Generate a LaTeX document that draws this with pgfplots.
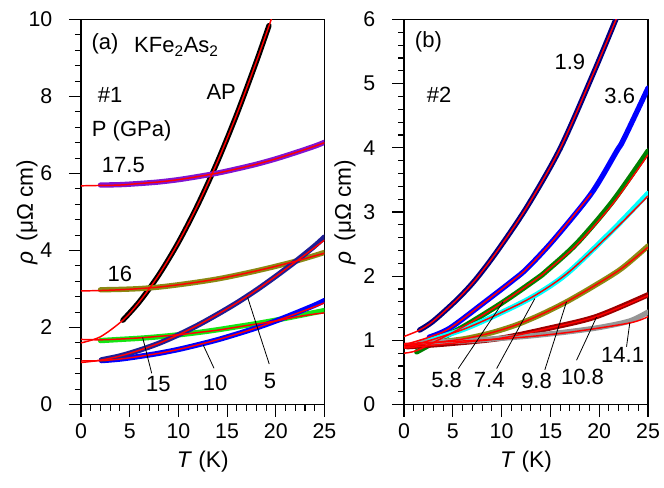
\documentclass[border=0pt]{standalone}
\usepackage{fontspec}
\setmainfont{Liberation Sans}
\usepackage{pgfplots}
\pgfplotsset{compat=1.18}
\definecolor{cviolet}{RGB}{128,20,210}
\definecolor{colive}{RGB}{138,138,20}
\definecolor{cgreen}{RGB}{20,230,20}
\definecolor{cblue}{RGB}{0,0,255}
\definecolor{cdblue}{RGB}{30,30,150}
\definecolor{cnavy}{RGB}{0,0,128}
\definecolor{cdgreen}{RGB}{0,128,0}
\definecolor{ccyan}{RGB}{0,255,255}
\definecolor{cdred}{RGB}{155,0,0}
\definecolor{cgrey}{RGB}{150,150,150}
\tikzset{lab/.style={font=\fontsize{16.5}{19}\selectfont, inner sep=0pt}}
\pgfplotsset{
  myaxis/.style={
    scale only axis,
    clip mode=individual,
    height=288.75pt,
    xmin=0,xmax=25,
    xtick={0,5,...,25},
    minor x tick num=4,
    tick pos=left,
    tick align=outside,
    major tick length=9pt,
    minor tick length=4.5pt,
    every tick/.style={black, line width=0.8pt},
    axis line style={line width=0.9pt},
    tick label style={font=\fontsize{16}{19}\selectfont},
    xticklabel style={yshift=-2pt},
    yticklabel style={xshift=-9pt},
    /pgf/number format/assume math mode=true,
    xlabel={\textit{T} (K)},
    xlabel style={font=\fontsize{17}{20}\selectfont, at={(axis description cs:0.5,-0.149)},anchor=center},
  },
  dat/.style={line width=4pt, smooth, no markers, line cap=round},
  fit/.style={red, line width=1.1pt, smooth, no markers},
  lead/.style={black, line width=0.6pt, no markers},
}
\newcommand{\rholabel}{\textit{ρ}\, (μΩ cm)}
\begin{document}
\begin{tikzpicture}
\path[use as bounding box] (0pt,0pt) rectangle (498pt,-366pt);
% ---------------- panel (a)
\begin{axis}[myaxis,
  at={(60.75pt,-14.625pt)}, anchor=north west,
  width=182.6pt,
  ymin=0,ymax=10, ytick={0,2,...,10}, minor y tick num=4,
]
% data
\addplot[dat, black] coordinates {(4.3,2.19)(6,2.67)(8,3.37)(10,4.21)(12,5.19)(14,6.30)(16,7.54)(18,8.90)(19.3,9.84)};
\addplot[dat, cviolet] coordinates {(2,5.70)(4,5.71)(6,5.74)(8,5.78)(10,5.84)(12,5.92)(14,6.01)(16,6.12)(18,6.24)(20,6.38)(22,6.54)(24,6.71)(25,6.81)};
\addplot[dat, colive] coordinates {(2,2.98)(4,2.99)(6,3.01)(8,3.05)(10,3.11)(12,3.18)(14,3.26)(16,3.36)(18,3.47)(20,3.59)(22,3.72)(24,3.87)(25,3.95)};
\addplot[dat, cgreen] coordinates {(2,1.66)(4,1.69)(6,1.72)(8,1.76)(10,1.81)(12,1.87)(14,1.94)(16,2.02)(18,2.10)(20,2.19)(22,2.29)(24,2.39)(25,2.44)};
\addplot[dat, cblue] coordinates {(2.1,1.14)(4,1.18)(6,1.25)(8,1.33)(10,1.43)(12,1.55)(14,1.68)(16,1.83)(18,1.99)(20,2.17)(22,2.37)(24,2.58)(25,2.70)};
\addplot[dat, cdblue] coordinates {(2.1,1.16)(4,1.26)(6,1.41)(8,1.59)(10,1.81)(12,2.06)(14,2.34)(16,2.64)(18,2.97)(20,3.33)(22,3.71)(24,4.12)(25,4.35)};
% fits
\addplot[fit] coordinates {(0,1.60)(2,1.76)(4.3,2.19)(6,2.67)(8,3.37)(10,4.21)(12,5.19)(14,6.30)(16,7.54)(18,8.90)(19.6,10.05)};
\addplot[fit] coordinates {(0,5.68)(2,5.69)(4,5.70)(6,5.74)(8,5.78)(10,5.84)(12,5.92)(14,6.01)(16,6.12)(18,6.24)(20,6.38)(22,6.54)(24,6.71)(25,6.80)};
\addplot[fit] coordinates {(0,2.95)(2,2.96)(4,2.98)(6,3.01)(8,3.05)(10,3.11)(12,3.18)(14,3.26)(16,3.36)(18,3.47)(20,3.59)(22,3.72)(24,3.86)(25,3.93)};
\addplot[fit] coordinates {(0,1.69)(2,1.68)(4,1.70)(6,1.73)(8,1.77)(10,1.81)(12,1.87)(14,1.93)(16,2.01)(18,2.09)(20,2.17)(22,2.27)(24,2.35)(25,2.38)};
\addplot[fit] coordinates {(0,1.13)(2,1.14)(4,1.18)(6,1.25)(8,1.33)(10,1.43)(12,1.55)(14,1.68)(16,1.83)(18,1.99)(20,2.17)(22,2.35)(24,2.54)(25,2.64)};
\addplot[fit] coordinates {(0,1.09)(2,1.15)(4,1.26)(6,1.41)(8,1.59)(10,1.81)(12,2.06)(14,2.34)(16,2.64)(18,2.97)(20,3.33)(22,3.70)(24,4.08)(25,4.27)};
% leader lines
\addplot[lead] coordinates {(6.33,1.74)(7.26,0.81)};
\addplot[lead] coordinates {(12.56,1.54)(13.66,0.94)};
\addplot[lead] coordinates {(17.11,2.78)(19.33,1.05)};
% labels
\node[lab] at (axis cs:2.46,9.38) {(a)};
\node[lab] at (axis cs:9.8,9.29) {KFe\textsubscript{2}As\textsubscript{2}};
\node[lab] at (axis cs:2.98,8.05) {\#1};
\node[lab] at (axis cs:14.4,8.12) {AP};
\node[lab] at (axis cs:5.2,7.1) {P (GPa)};
\node[lab] at (axis cs:4.35,6.22) {17.5};
\node[lab] at (axis cs:4.0,3.38) {16};
\node[lab] at (axis cs:7.94,0.53) {15};
\node[lab] at (axis cs:13.76,0.55) {10};
\node[lab] at (axis cs:19.4,0.62) {5};
\node[lab, font=\fontsize{17}{20}\selectfont, rotate=90] at (axis description cs:-0.222,0.5) {\rholabel};
\end{axis}
% ---------------- panel (b)
\begin{axis}[myaxis,
  at={(303pt,-14.625pt)}, anchor=north west,
  width=183pt,
  ymin=0,ymax=6, ytick={0,1,...,6}, minor y tick num=4,
]
% data
\addplot[dat, cnavy] coordinates {(1.6,1.16)(3,1.30)(5.4,1.63)(7.3,1.94)(9.5,2.38)(12.6,3.08)(16,3.99)(19.4,5.16)(21.7,6.0)};
\addplot[dat, cblue] coordinates {(2.6,1.05)(4.7,1.19)(8.3,1.60)(11.2,1.94)(12.6,2.12)(15.3,2.56)(19.2,3.29)(21.8,3.95)(22.5,4.13)(25,4.93)};
\addplot[dat, cdgreen] coordinates {(1.3,0.82)(3.7,1.02)(6.4,1.24)(10.2,1.60)(13.6,1.96)(14.6,2.08)(17.7,2.51)(21.4,3.17)(25,3.95)};
\addplot[dat, ccyan] coordinates {(1.5,0.95)(3.3,1.03)(6.4,1.19)(9.8,1.42)(13.2,1.68)(16.7,2.04)(21.4,2.72)(25,3.29)};
\addplot[dat, colive] coordinates {(1.6,0.93)(4,0.98)(6.4,1.03)(9,1.12)(11.5,1.24)(14,1.40)(16.65,1.60)(19.5,1.85)(22.3,2.12)(25,2.47)};
\addplot[dat, cdred] coordinates {(0.3,0.90)(4.7,0.95)(9.8,1.03)(14.9,1.19)(19.7,1.37)(25,1.71)};
\addplot[dat, cgrey] coordinates {(1.6,0.97)(6,0.99)(9.8,1.03)(13,1.07)(16.65,1.13)(20,1.20)(23.1,1.30)(25,1.44)};
% fits
\addplot[fit] coordinates {(0,1.06)(1.6,1.16)(3,1.30)(5.4,1.63)(7.3,1.94)(9.5,2.38)(12.6,3.08)(16,3.99)(19.4,5.16)(22,6.1)};
\addplot[fit] coordinates {(0,0.93)(2.6,1.05)(4.7,1.19)(8.3,1.60)(11.2,1.94)(12.6,2.12)(15.3,2.56)(19.2,3.29)};
\addplot[fit] coordinates {(0,0.80)(1.3,0.84)(3.7,1.02)(6.4,1.24)(10.2,1.60)(13.6,1.96)(14.6,2.08)(17.7,2.49)(21.4,3.13)(25,3.89)};
\addplot[fit] coordinates {(0,0.93)(1.5,0.95)(3.3,1.03)(6.4,1.19)(9.8,1.42)(13.2,1.68)(16.7,2.04)(21.4,2.70)(25,3.25)};
\addplot[fit] coordinates {(0,0.90)(1.6,0.93)(4,0.98)(6.4,1.03)(9,1.12)(11.5,1.24)(14,1.40)(16.65,1.60)(19.5,1.85)(22.3,2.12)(25,2.45)};
\addplot[fit] coordinates {(0,0.88)(4.7,0.95)(9.8,1.03)(14.9,1.19)(19.7,1.37)(25,1.70)};
\addplot[fit] coordinates {(0,0.95)(9.8,1.02)(16.65,1.12)(23.1,1.27)(25,1.37)};
% leader lines
\addplot[lead] coordinates {(10.16,1.60)(5.56,0.56)};
\addplot[lead] coordinates {(13.4,1.65)(9.49,0.56)};
\addplot[lead] coordinates {(16.65,1.60)(14.43,0.54)};
\addplot[lead] coordinates {(19.72,1.36)(17.68,0.69)};
\addplot[lead] coordinates {(23.13,1.27)(22.8,0.90)};
% labels
\node[lab] at (axis cs:2.5,5.65) {(b)};
\node[lab] at (axis cs:3.6,4.82) {\#2};
\node[lab] at (axis cs:17,5.34) {1.9};
\node[lab] at (axis cs:22.1,4.81) {3.6};
\node[lab] at (axis cs:4.37,0.38) {5.8};
\node[lab] at (axis cs:8.73,0.38) {7.4};
\node[lab] at (axis cs:13.58,0.36) {9.8};
\node[lab] at (axis cs:18.29,0.43) {10.8};
\node[lab] at (axis cs:22.4,0.77) {14.1};
\node[lab, font=\fontsize{17}{20}\selectfont, rotate=90] at (axis description cs:-0.242,0.5) {\rholabel};
\end{axis}
\end{tikzpicture}
\end{document}
